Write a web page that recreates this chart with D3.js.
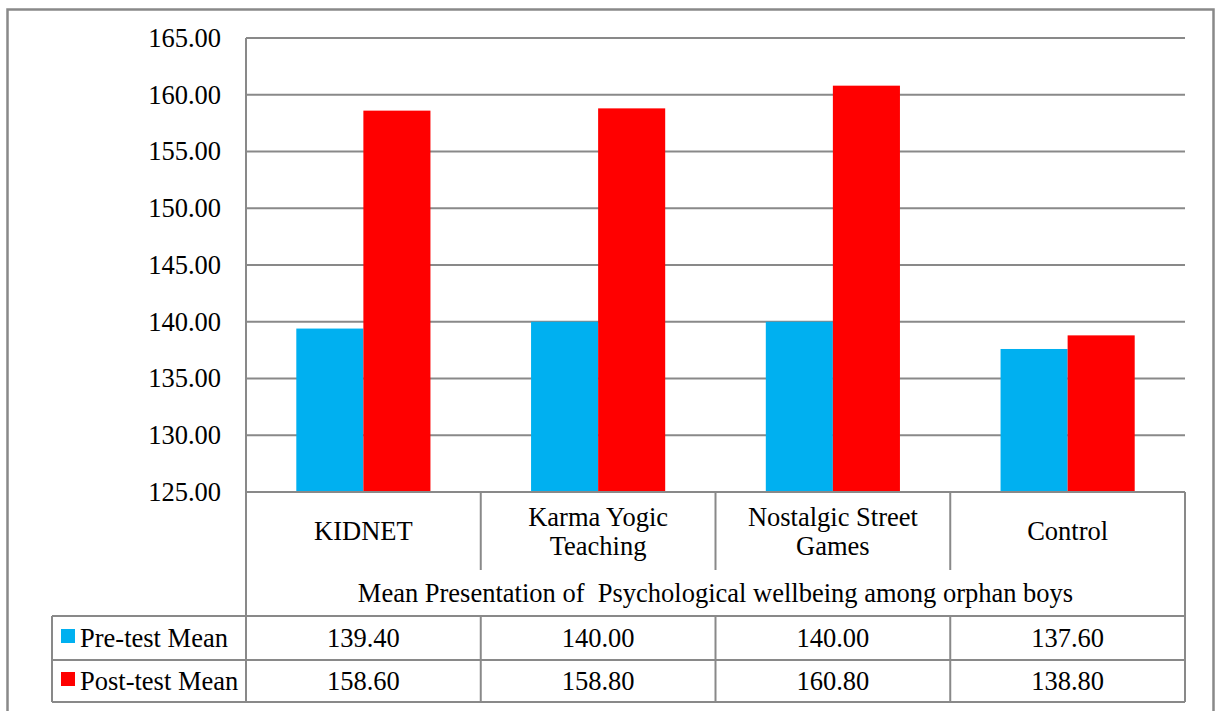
<!DOCTYPE html>
<html>
<head>
<meta charset="utf-8">
<script src="https://cdn.jsdelivr.net/npm/d3@7"></script>
</head>
<body style="margin:0;background:#fff">
<svg id="chart" width="1217" height="711" style="display:block"></svg>
<script>
// Chart data
const categories = [["KIDNET"], ["Karma Yogic", "Teaching"], ["Nostalgic Street", "Games"], ["Control"]];
const seriesNames = ["Pre-test Mean", "Post-test Mean"];
const preTest = [139.40, 140.00, 140.00, 137.60];
const postTest = [158.60, 158.80, 160.80, 138.80];
const yTicks = [125, 130, 135, 140, 145, 150, 155, 160, 165];
const axisTitle = "Mean Presentation of  Psychological wellbeing among orphan boys";

const colors = ["#00B0F0", "#FF0000"];
const lineColor = "#898989";
const fontFamily = "Times New Roman, Liberation Serif, Tinos, serif";
const fontSize = 26.5;

const svg = d3.select("#chart");

// Geometry of plot area and data table
const plotLeft = 246, plotRight = 1185, plotTop = 38, plotBottom = 492;
const catRowBottom = 570, tableTop = 616, tableMid = 660, tableBottom = 702;
const legendLeft = 52;

function label(sel) {
  return sel.attr("font-family", fontFamily).attr("font-size", fontSize).attr("fill", "#000");
}

// Outer chart frame
svg.append("rect")
  .attr("x", 7.5).attr("y", 9.5)
  .attr("width", 1206).attr("height", 720)
  .attr("fill", "none").attr("stroke", lineColor).attr("stroke-width", 2.5);

const idx = d3.range(categories.length);
const x = d3.scaleBand().domain(idx).range([plotLeft, plotRight]).paddingInner(0).paddingOuter(0);
const xs = d3.scaleBand().domain([0, 1]).range([0, x.bandwidth()]).paddingInner(0).paddingOuter(0.75);
const y = d3.scaleLinear().domain([125, 165]).range([plotBottom, plotTop]);

// Horizontal gridlines
svg.append("g").selectAll("line").data(yTicks.filter(t => t > 125)).join("line")
  .attr("x1", plotLeft).attr("x2", plotRight)
  .attr("y1", d => y(d)).attr("y2", d => y(d))
  .attr("stroke", lineColor).attr("stroke-width", 2);

// Y axis tick labels
const yAxis = d3.axisLeft(y).tickValues(yTicks).tickFormat(d3.format(".2f")).tickSize(0).tickPadding(25);
const yg = svg.append("g").attr("transform", `translate(${plotLeft},0)`).call(yAxis);
yg.select(".domain").remove();
yg.attr("font-family", fontFamily).attr("font-size", fontSize);
label(yg.selectAll("text"));

// Bars
const series = [preTest, postTest];
series.forEach((vals, s) => {
  svg.append("g").selectAll("rect").data(vals).join("rect")
    .attr("x", (d, i) => x(i) + xs(s))
    .attr("y", d => y(d))
    .attr("width", xs.bandwidth())
    .attr("height", d => y(125) - y(d))
    .attr("fill", colors[s]);
});

// Frame lines: axis, category box and table
const frame = svg.append("g").attr("stroke", lineColor).attr("stroke-width", 2).attr("fill", "none");
frame.append("line").attr("x1", plotLeft).attr("x2", plotLeft).attr("y1", plotTop).attr("y2", tableBottom);
frame.append("line").attr("x1", plotLeft).attr("x2", plotRight).attr("y1", plotBottom).attr("y2", plotBottom);
frame.append("line").attr("x1", plotRight).attr("x2", plotRight).attr("y1", plotBottom).attr("y2", tableBottom);
idx.slice(1).forEach(i => {
  frame.append("line").attr("x1", x(i)).attr("x2", x(i)).attr("y1", plotBottom).attr("y2", catRowBottom);
  frame.append("line").attr("x1", x(i)).attr("x2", x(i)).attr("y1", tableTop).attr("y2", tableBottom);
});
[tableTop, tableMid, tableBottom].forEach(ty => {
  frame.append("line").attr("x1", legendLeft).attr("x2", plotRight).attr("y1", ty).attr("y2", ty);
});
frame.append("line").attr("x1", legendLeft).attr("x2", legendLeft).attr("y1", tableTop).attr("y2", tableBottom);

// Category labels
categories.forEach((lines, i) => {
  const cx = x(i) + x.bandwidth() / 2;
  const cy = (plotBottom + catRowBottom) / 2;
  const lh = 29;
  lines.forEach((ln, k) => {
    label(svg.append("text"))
      .attr("x", cx)
      .attr("y", cy + (k - (lines.length - 1) / 2) * lh)
      .attr("dy", "0.35em")
      .attr("text-anchor", "middle")
      .text(ln);
  });
});

// Axis title spanning the categories
label(svg.append("text"))
  .attr("x", (plotLeft + plotRight) / 2)
  .attr("y", (catRowBottom + tableTop) / 2)
  .attr("dy", "0.35em")
  .attr("text-anchor", "middle")
  .attr("xml:space", "preserve")
  .text(axisTitle);

// Data table rows with legend keys
const rowYs = [(tableTop + tableMid) / 2, (tableMid + tableBottom) / 2];
series.forEach((vals, s) => {
  const ry = rowYs[s];
  svg.append("rect").attr("x", 61).attr("y", ry - 9).attr("width", 14).attr("height", 14).attr("fill", colors[s]);
  label(svg.append("text")).attr("x", 80).attr("y", ry).attr("dy", "0.35em").text(seriesNames[s]);
  label(svg.append("g").selectAll("text").data(vals).join("text"))
    .attr("x", (d, i) => x(i) + x.bandwidth() / 2)
    .attr("y", ry)
    .attr("dy", "0.35em")
    .attr("text-anchor", "middle")
    .text(d => d3.format(".2f")(d));
});
</script>
</body>
</html>
